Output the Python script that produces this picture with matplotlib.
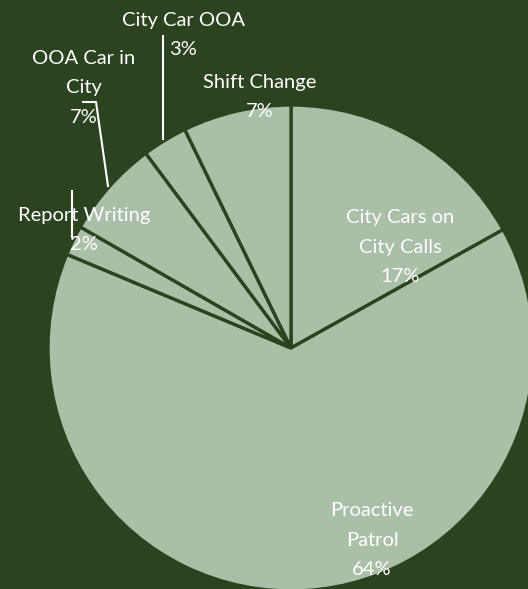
import matplotlib
matplotlib.use("Agg")
import matplotlib.pyplot as plt

categories = ["City Cars on\nCity Calls", "Proactive\nPatrol", "Report Writing", "OOA Car in\nCity", "City Car OOA", "Shift Change"]
shares = [16.9, 64.4, 2.0, 6.5, 3.0, 7.2]
pct_labels = ["17%", "64%", "2%", "7%", "3%", "7%"]

BG = "#2c431f"
FILL = "#a9bfa8"
W, H = 528, 589

fig = plt.figure(figsize=(W / 100, H / 100), dpi=100, facecolor=BG)
ax = fig.add_axes([0, 0, 1, 1])
ax.set_facecolor(BG)

cx, cy, r = 291, H - 348, 243
ax.pie(shares, colors=[FILL] * len(shares), startangle=90, counterclock=False,
       center=(cx, cy), radius=r,
       wedgeprops=dict(edgecolor=BG, linewidth=2.4))
ax.set_xlim(0, W)
ax.set_ylim(0, H)
ax.set_aspect("equal")
ax.axis("off")

font = dict(family=["Lato", "DejaVu Sans"], fontsize=14.5, color="white",
            ha="center", va="center", linespacing=1.89)

# label positions in pixel coords (x, y from top)
pos = [(400, 247), (372, 540), (84, 230), (84, 88), (183, 35), (260, 97)]
for name, pct, (x, y) in zip(categories, pct_labels, pos):
    ax.text(x, H - y, f"{name}\n{pct}", **font)

# leader lines
ax.plot([72, 72], [H - 191, H - 237], color="white", lw=1.5)
ax.plot([83, 96, 108], [H - 102, H - 102, H - 186], color="white", lw=1.5)
ax.plot([163, 163], [H - 36, H - 139], color="white", lw=1.5)

fig.savefig("out.png", dpi=100, facecolor=BG)
